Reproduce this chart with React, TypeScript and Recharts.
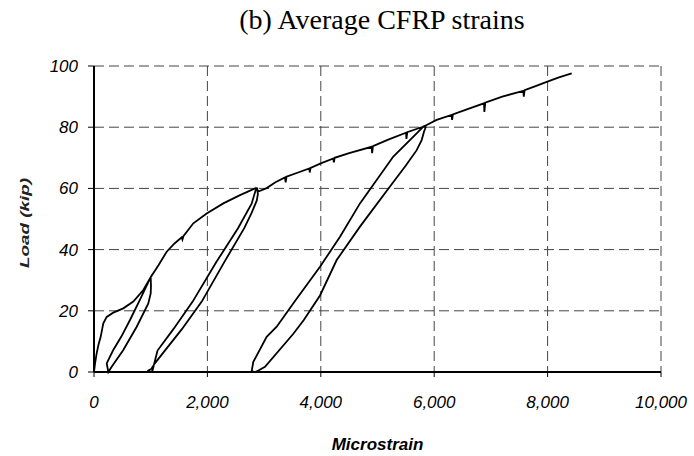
import { CartesianGrid, Label, Line, LineChart, XAxis, YAxis } from "recharts"

// strain path in load order (loading, unloading and reloading cycles)
const strain = [
  0, 20, 47, 80, 118, 164, 224, 340, 517, 693, 870, 1000,
  1005, 1000, 958, 753, 517, 312, 253,
  224, 340, 480, 635, 820, 1000,
  1140, 1282, 1420, 1547, 1560, 1580, 1752, 1987, 2281, 2575, 2840, 2880,
  2890, 2870, 2780, 2650, 2300, 1900, 1550, 1250, 1080, 1010, 960, 990,
  1030, 1120, 1400, 1740, 2160, 2540, 2780, 2860,
  2900, 3045, 3200, 3369, 3380, 3395, 3600, 3797, 3805, 3820, 4000, 4221, 4230, 4245,
  4500, 4897, 4905, 4920, 5200, 5503, 5510, 5525, 5700, 5808, 5850,
  5820, 5779, 5691, 5500, 5220, 4691, 4280, 3986, 3700, 3516, 3016, 2900, 2840,
  2781, 2810, 3045, 3222, 3545, 3986, 4339, 4691, 5279, 5691, 5808,
  5867, 6043, 6308, 6315, 6330, 6600, 6878, 6885, 6900, 7200, 7572, 7580, 7595,
  7800, 7996, 8200, 8425,
]
const load = [
  0, 3, 6.1, 9, 11.5, 15.9, 18, 19.4, 20.8, 23, 26.8, 31,
  28, 25.7, 22.4, 14.8, 7.2, 1.7, 0,
  2.8, 7.2, 11.5, 17, 24, 31,
  35, 39.3, 42, 44, 43.3, 44.5, 48.6, 51.8, 55.1, 57.8, 60, 60,
  58, 56, 52, 47, 36, 23, 14, 7, 3, 1, 0.5, 0,
  0.3, 7, 14, 23, 36, 47, 55, 60,
  59, 60.1, 62, 63.6, 62, 63.8, 65.2, 66.5, 65.2, 66.7, 68.2, 69.8, 68.5, 70,
  71.5, 73.6, 71.5, 73.8, 76, 78.2, 76.2, 78.4, 79.5, 80.2, 80,
  78.5, 75.8, 72.5, 67.5, 60.6, 47.5, 36.6, 25, 17, 12.5, 1.7, 0.5, 0,
  0.3, 3.3, 11.5, 14.8, 23.2, 34.4, 44.2, 55.1, 70.4, 78, 80.2,
  80.7, 82.4, 84, 82.4, 84.2, 86, 87.8, 85, 88, 90, 91.9, 90, 92.1,
  93.5, 94.9, 96.3, 97.6,
]
const xTicks = [0, 2000, 4000, 6000, 8000, 10000]
const yTicks = [0, 20, 40, 60, 80, 100]

const data = strain.map((s, i) => ({ strain: s, load: load[i] }))

const tickFont = {
  fill: "#000",
  fontSize: 17,
  fontStyle: "italic",
  fontFamily: "'Liberation Sans', Arial, sans-serif",
}

const YLabel = ({ viewBox }: any) => {
  const cx = 24
  const cy = viewBox.y + viewBox.height / 2 + 4
  return (
    <text
      x={cx}
      y={cy}
      transform={`rotate(-90 ${cx} ${cy})`}
      textAnchor="middle"
      dominantBaseline="central"
      fontSize={13}
      fontWeight="bold"
      fontStyle="italic"
      fontFamily="'Liberation Sans', Arial, sans-serif"
      fill="#222"
      textLength={90}
      lengthAdjust="spacingAndGlyphs"
    >
      Load (kip)
    </text>
  )
}

const XLabel = ({ viewBox }: any) => (
  <text
    x={viewBox.x + viewBox.width / 2}
    y={viewBox.y + 78}
    textAnchor="middle"
    fontSize={17}
    fontWeight="bold"
    fontStyle="italic"
    fontFamily="'Liberation Sans', Arial, sans-serif"
    fill="#000"
  >
    Microstrain
  </text>
)

export default function App() {
  return (
    <div style={{ position: "absolute", left: 0, top: 0, width: 694, height: 456, background: "#fff" }}>
      <div
        style={{
          position: "absolute",
          left: 82,
          width: 600,
          top: 4,
          textAlign: "center",
          fontFamily: "'Liberation Serif', 'Times New Roman', serif",
          fontSize: 28,
          color: "#000",
        }}
      >
        (b) Average CFRP strains
      </div>
      <LineChart
        width={694}
        height={456}
        data={data}
        margin={{ top: 66, right: 33, bottom: 0, left: 0 }}
      >
        <CartesianGrid stroke="#444" strokeDasharray="10 5" />
        <XAxis
          dataKey="strain"
          type="number"
          domain={[0, 10000]}
          ticks={xTicks}
          interval={0}
          height={84}
          tickFormatter={(v) => v.toLocaleString("en-US")}
          axisLine={{ stroke: "#000", strokeWidth: 2 }}
          tickLine={{ stroke: "#000" }}
          tickSize={5}
          tickMargin={19}
          tick={tickFont}
        >
          <Label content={<XLabel />} />
        </XAxis>
        <YAxis
          type="number"
          domain={[0, 100]}
          ticks={yTicks}
          interval={0}
          width={94}
          axisLine={{ stroke: "#000", strokeWidth: 2 }}
          tickLine={{ stroke: "#000" }}
          tickSize={6}
          tickMargin={10}
          tick={tickFont}
        >
          <Label content={<YLabel />} />
        </YAxis>
        <Line
          type="linear"
          dataKey="load"
          stroke="#000"
          strokeWidth={1.8}
          dot={false}
          isAnimationActive={false}
        />
      </LineChart>
    </div>
  )
}
